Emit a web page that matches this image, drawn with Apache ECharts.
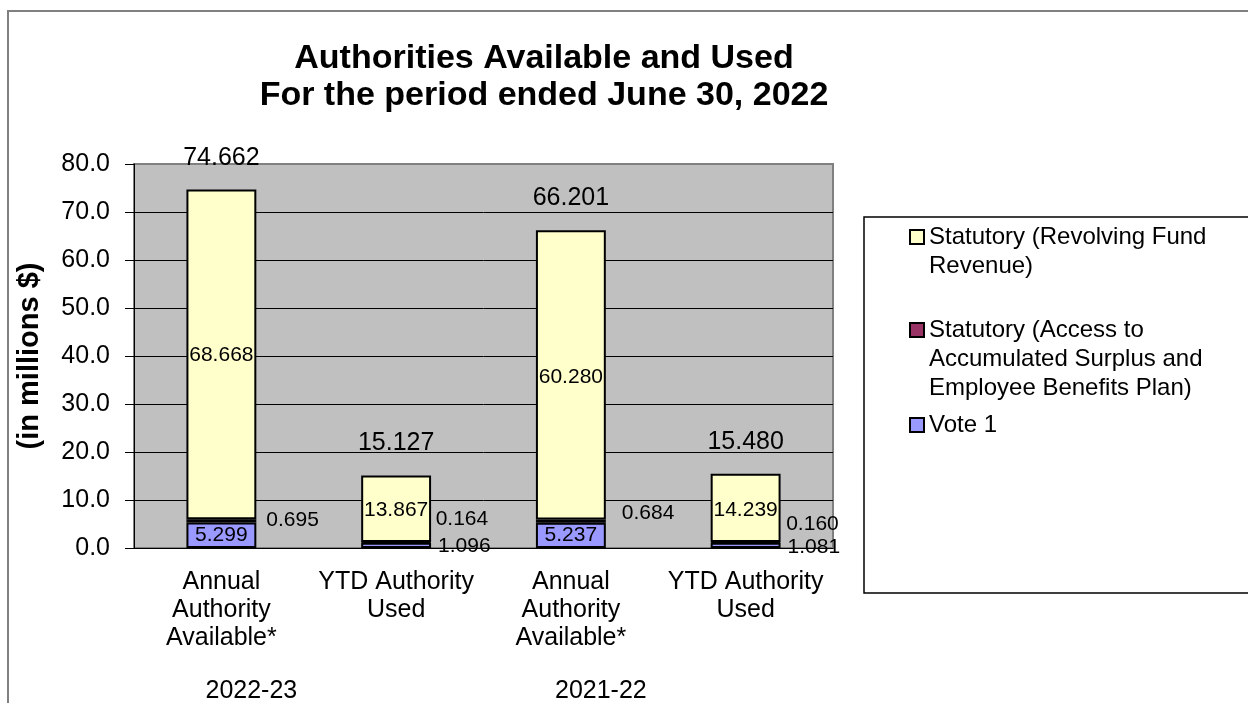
<!DOCTYPE html>
<html><head><meta charset="utf-8">
<script src="https://cdn.jsdelivr.net/npm/echarts@6/dist/echarts.min.js"></script>
<style>html,body{margin:0;padding:0;background:#fff;overflow:hidden}#c{width:1248px;height:703px}</style>
</head><body><div id="c"></div>
<script>
// ---- data ----
const categories = ['Annual\nAuthority\nAvailable*', 'YTD Authority\nUsed', 'Annual\nAuthority\nAvailable*', 'YTD Authority\nUsed'];
const yearLabels = ['2022-23', '', '2021-22', ''];
const vote1 = [5.299, 1.096, 5.237, 1.081];
const statAccess = [0.695, 0.164, 0.684, 0.160];
const statRevolving = [68.668, 13.867, 60.280, 14.239];
const totals = [74.662, 15.127, 66.201, 15.480];
const nameVote = 'Vote 1';
const nameAccess = 'Statutory (Access to Accumulated Surplus and Employee Benefits Plan)';
const nameRevolving = 'Statutory (Revolving Fund Revenue)';
const legendLines = {};
legendLines[nameRevolving] = ['Statutory (Revolving Fund', 'Revenue)'];
legendLines[nameAccess] = ['Statutory (Access to', 'Accumulated Surplus and', 'Employee Benefits Plan)'];
legendLines[nameVote] = ['Vote 1'];

// ---- styles ----
const FONT = '"Liberation Sans", Arial, Helvetica, sans-serif';
const LEG_LH = 29;
const baseLabel = { show: true, fontSize: 21, lineHeight: 21, color: '#000', fontFamily: FONT, formatter: p => Number(p.value).toFixed(3) };
const voteLabelPos = [
  { position: 'inside' },
  { position: 'right', distance: 7, offset: [0, 1] },
  { position: 'inside' },
  { position: 'right', distance: 7, offset: [0, 2] }
];
const accessLabelPos = [
  { position: 'right', distance: 10, offset: [0, -1] },
  { position: 'right', distance: 4, offset: [0, -23] },
  { position: 'right', distance: 16, offset: [0, -8] },
  { position: 'right', distance: 5, offset: [0, -18] }
];
const revLabelPos = [{ position: 'inside', offset: [0, 1] }, { position: 'inside', offset: [0, 2] }, { position: 'inside', offset: [0, 2] }, { position: 'inside', offset: [0, 2] }];

function items(values, pos) {
  return values.map((v, i) => ({ value: v, label: pos[i] }));
}
const barBorder = { borderColor: '#000', borderWidth: 2 };

// each legend item: first text line aligned with its icon (leading blank lines balance the block)
function legendFor(name, iconCenterY) {
  const lines = legendLines[name];
  const pad = lines.length - 1;
  const all = new Array(pad).fill('').concat(lines);
  return {
    data: [name], left: 909, top: iconCenterY - all.length * LEG_LH / 2, orient: 'vertical', padding: 0,
    itemWidth: 14, itemHeight: 14, icon: 'rect', selectedMode: false,
    formatter: () => all.join('\n'),
    itemStyle: { borderColor: '#000', borderWidth: 2 },
    textStyle: { fontSize: 24, lineHeight: LEG_LH, color: '#000', fontFamily: FONT }
  };
}

const chart = echarts.init(document.getElementById('c'));
chart.setOption({
  animation: false,
  textStyle: { fontFamily: FONT },
  title: {
    text: 'Authorities Available and Used\nFor the period ended June 30, 2022',
    left: 544, top: 40, textAlign: 'center', padding: 0,
    textStyle: { fontSize: 34, fontWeight: 'bold', lineHeight: 37, color: '#000', fontFamily: FONT }
  },
  graphic: [
    { type: 'rect', silent: true, z: 0, shape: { x: 8, y: 11, width: 1400, height: 900 }, style: { fill: 'none', stroke: '#808080', lineWidth: 2 } },
    { type: 'rect', silent: true, z: 1, shape: { x: 864, y: 217, width: 500, height: 376 }, style: { fill: '#fff', stroke: '#000', lineWidth: 1.5 } }
  ],
  legend: [
    legendFor(nameRevolving, 237),
    legendFor(nameAccess, 330),
    legendFor(nameVote, 425)
  ],
  grid: {
    left: 134, right: 415, top: 164, bottom: 155, show: true,
    backgroundColor: '#C0C0C0', borderColor: '#808080', borderWidth: 2,
    outerBoundsMode: 'none'
  },
  xAxis: [
    {
      type: 'category', data: categories,
      axisLine: { show: true, lineStyle: { color: '#000', width: 1 } },
      axisTick: { show: false },
      axisLabel: { interval: 0, fontSize: 25, lineHeight: 28, color: '#000', margin: 20, fontFamily: FONT }
    },
    {
      type: 'category', data: yearLabels, position: 'bottom',
      axisLine: { show: false }, axisTick: { show: false }, splitLine: { show: false },
      axisLabel: { interval: 0, fontSize: 25, color: '#000', margin: 131, padding: [0, 0, 0, 60], fontFamily: FONT }
    }
  ],
  yAxis: {
    type: 'value', min: 0, max: 80, interval: 10,
    name: '(in millions $)', nameLocation: 'middle', nameRotate: 90, nameGap: 90,
    nameTextStyle: { fontSize: 29, fontWeight: 'bold', color: '#000', fontFamily: FONT },
    axisLine: { show: true, lineStyle: { color: '#000', width: 1 } },
    axisTick: { show: true, length: 9, lineStyle: { color: '#000' } },
    axisLabel: { fontSize: 25, color: '#000', margin: 24, fontFamily: FONT, formatter: v => v.toFixed(1) },
    splitLine: { show: true, lineStyle: { color: ['#000', '#000', '#000', '#000', '#000', '#000', '#000', '#000', '#808080'], width: 1 } }
  },
  series: [
    { name: nameVote, type: 'bar', stack: 'a', barWidth: '40%', itemStyle: Object.assign({ color: '#9999FF' }, barBorder), label: baseLabel, data: items(vote1, voteLabelPos) },
    { name: nameAccess, type: 'bar', stack: 'a', barWidth: '40%', itemStyle: Object.assign({ color: '#993366' }, barBorder), label: baseLabel, data: items(statAccess, accessLabelPos) },
    { name: nameRevolving, type: 'bar', stack: 'a', barWidth: '40%', itemStyle: Object.assign({ color: '#FFFFCC' }, barBorder), label: baseLabel, data: items(statRevolving, revLabelPos) },
    {
      name: 'Total', type: 'scatter', symbolSize: 1, silent: true, z: 5,
      itemStyle: { color: 'rgba(0,0,0,0)' },
      label: { show: true, position: 'top', distance: 19, fontSize: 25, lineHeight: 25, color: '#000', opacity: 1, textBorderWidth: 0, fontFamily: FONT, formatter: p => Number(p.value).toFixed(3) },
      data: totals
    }
  ]
});
</script></body></html>
